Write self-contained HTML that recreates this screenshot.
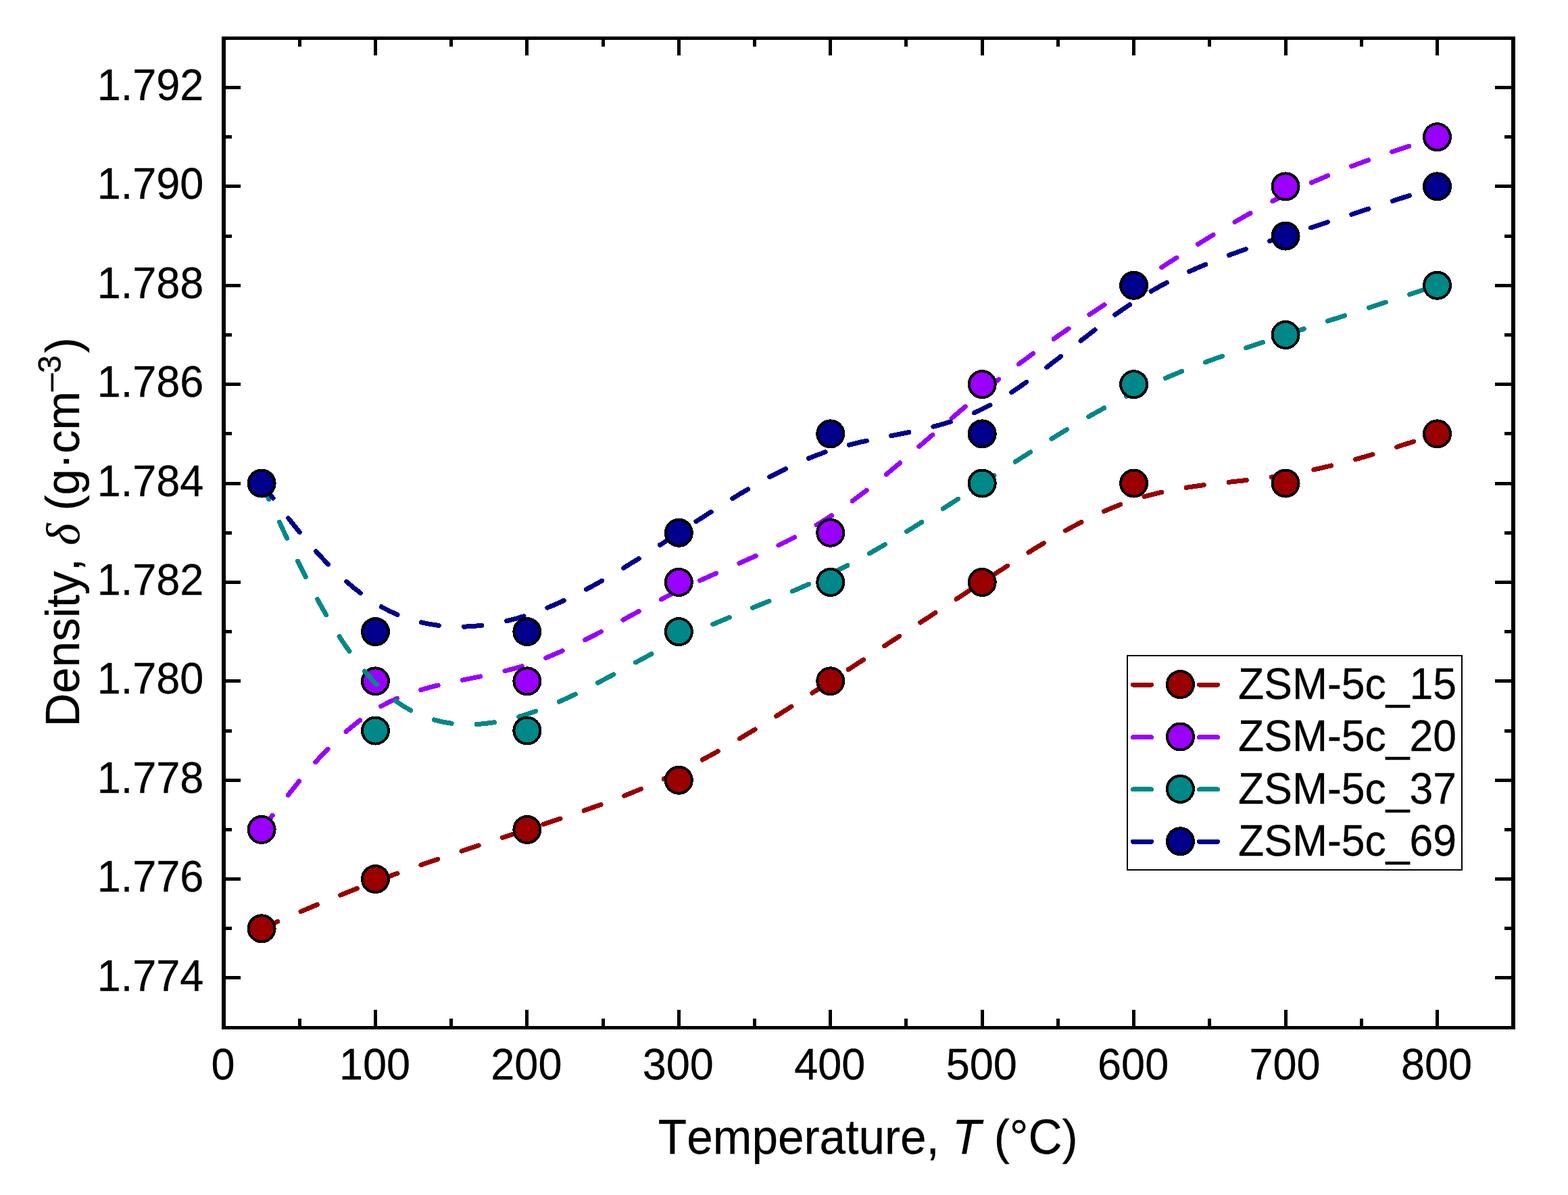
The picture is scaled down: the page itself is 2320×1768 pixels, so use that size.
<!DOCTYPE html><html><head><meta charset="utf-8"><title>Density vs Temperature</title><style>
html,body{margin:0;padding:0;background:#fff;}body{width:2320px;height:1768px;overflow:hidden;}svg{display:block;}
text{font-family:"Liberation Sans",Arial,sans-serif;fill:#000;font-kerning:none;stroke:#000;stroke-width:0.3px;}
</style></head><body>
<svg width="2320" height="1768" viewBox="0 0 2320 1768">
<rect x="0" y="0" width="2320" height="1768" fill="#fff"/>
<g fill="#000" shape-rendering="crispEdges">
<rect x="328" y="54" width="6" height="1469"/>
<rect x="2236" y="54" width="6" height="1469"/>
<rect x="328" y="54" width="1914" height="5"/>
<rect x="328" y="1518" width="1914" height="5"/>
<rect x="440.72" y="1507" width="5" height="11"/>
<rect x="440.72" y="59" width="5" height="10"/>
<rect x="552.94" y="1494" width="5" height="24"/>
<rect x="552.94" y="59" width="5" height="23"/>
<rect x="665.16" y="1507" width="5" height="11"/>
<rect x="665.16" y="59" width="5" height="10"/>
<rect x="777.38" y="1494" width="5" height="24"/>
<rect x="777.38" y="59" width="5" height="23"/>
<rect x="889.59" y="1507" width="5" height="11"/>
<rect x="889.59" y="59" width="5" height="10"/>
<rect x="1001.81" y="1494" width="5" height="24"/>
<rect x="1001.81" y="59" width="5" height="23"/>
<rect x="1114.03" y="1507" width="5" height="11"/>
<rect x="1114.03" y="59" width="5" height="10"/>
<rect x="1226.25" y="1494" width="5" height="24"/>
<rect x="1226.25" y="59" width="5" height="23"/>
<rect x="1338.47" y="1507" width="5" height="11"/>
<rect x="1338.47" y="59" width="5" height="10"/>
<rect x="1450.69" y="1494" width="5" height="24"/>
<rect x="1450.69" y="59" width="5" height="23"/>
<rect x="1562.91" y="1507" width="5" height="11"/>
<rect x="1562.91" y="59" width="5" height="10"/>
<rect x="1675.12" y="1494" width="5" height="24"/>
<rect x="1675.12" y="59" width="5" height="23"/>
<rect x="1787.34" y="1507" width="5" height="11"/>
<rect x="1787.34" y="59" width="5" height="10"/>
<rect x="1899.56" y="1494" width="5" height="24"/>
<rect x="1899.56" y="59" width="5" height="23"/>
<rect x="2011.78" y="1507" width="5" height="11"/>
<rect x="2011.78" y="59" width="5" height="10"/>
<rect x="2124.00" y="1494" width="5" height="24"/>
<rect x="2124.00" y="59" width="5" height="23"/>
<rect x="334" y="1444.49" width="22" height="5"/>
<rect x="2212" y="1444.49" width="24" height="5"/>
<rect x="334" y="1371.30" width="9" height="5"/>
<rect x="2226" y="1371.30" width="10" height="5"/>
<rect x="334" y="1298.10" width="22" height="5"/>
<rect x="2212" y="1298.10" width="24" height="5"/>
<rect x="334" y="1224.91" width="9" height="5"/>
<rect x="2226" y="1224.91" width="10" height="5"/>
<rect x="334" y="1151.72" width="22" height="5"/>
<rect x="2212" y="1151.72" width="24" height="5"/>
<rect x="334" y="1078.52" width="9" height="5"/>
<rect x="2226" y="1078.52" width="10" height="5"/>
<rect x="334" y="1005.33" width="22" height="5"/>
<rect x="2212" y="1005.33" width="24" height="5"/>
<rect x="334" y="932.13" width="9" height="5"/>
<rect x="2226" y="932.13" width="10" height="5"/>
<rect x="334" y="858.94" width="22" height="5"/>
<rect x="2212" y="858.94" width="24" height="5"/>
<rect x="334" y="785.75" width="9" height="5"/>
<rect x="2226" y="785.75" width="10" height="5"/>
<rect x="334" y="712.55" width="22" height="5"/>
<rect x="2212" y="712.55" width="24" height="5"/>
<rect x="334" y="639.36" width="9" height="5"/>
<rect x="2226" y="639.36" width="10" height="5"/>
<rect x="334" y="566.16" width="22" height="5"/>
<rect x="2212" y="566.16" width="24" height="5"/>
<rect x="334" y="492.97" width="9" height="5"/>
<rect x="2226" y="492.97" width="10" height="5"/>
<rect x="334" y="419.78" width="22" height="5"/>
<rect x="2212" y="419.78" width="24" height="5"/>
<rect x="334" y="346.58" width="9" height="5"/>
<rect x="2226" y="346.58" width="10" height="5"/>
<rect x="334" y="273.39" width="22" height="5"/>
<rect x="2212" y="273.39" width="24" height="5"/>
<rect x="334" y="200.19" width="9" height="5"/>
<rect x="2226" y="200.19" width="10" height="5"/>
<rect x="334" y="127.00" width="22" height="5"/>
<rect x="2212" y="127.00" width="24" height="5"/>
</g>
<g font-size="63" text-anchor="middle">
<text transform="translate(330.00,1597) scale(1,1.030)">0</text>
<text transform="translate(554.44,1597) scale(1,1.030)">100</text>
<text transform="translate(778.88,1597) scale(1,1.030)">200</text>
<text transform="translate(1003.31,1597) scale(1,1.030)">300</text>
<text transform="translate(1227.75,1597) scale(1,1.030)">400</text>
<text transform="translate(1452.19,1597) scale(1,1.030)">500</text>
<text transform="translate(1676.62,1597) scale(1,1.030)">600</text>
<text transform="translate(1901.06,1597) scale(1,1.030)">700</text>
<text transform="translate(2125.50,1597) scale(1,1.030)">800</text>
</g>
<g font-size="63" text-anchor="end">
<text transform="translate(301.30,1465.54) scale(1,1.030)">1.774</text>
<text transform="translate(301.30,1319.15) scale(1,1.030)">1.776</text>
<text transform="translate(301.30,1172.77) scale(1,1.030)">1.778</text>
<text transform="translate(301.30,1026.38) scale(1,1.030)">1.780</text>
<text transform="translate(301.30,879.99) scale(1,1.030)">1.782</text>
<text transform="translate(301.30,733.60) scale(1,1.030)">1.784</text>
<text transform="translate(301.30,587.21) scale(1,1.030)">1.786</text>
<text transform="translate(301.30,440.83) scale(1,1.030)">1.788</text>
<text transform="translate(301.30,294.44) scale(1,1.030)">1.790</text>
<text transform="translate(301.30,148.05) scale(1,1.030)">1.792</text>
</g>
<text transform="translate(1284.2,1706.9) scale(1,1.035)" font-size="69.3" text-anchor="middle">Temperature, <tspan font-style="italic">T</tspan> (°C)</text>
<text transform="translate(117,787.40) rotate(-90) scale(1,1.01)" font-size="69.10" text-anchor="middle">Density, <tspan font-family="'Liberation Serif', serif" font-style="italic">δ</tspan> (g·cm<tspan font-size="48" dy="-27">–3</tspan><tspan dy="27" dx="3.4">)</tspan></text>
<path d="M387.11 1373.80C387.11 1373.80 387.11 1373.80 415.16 1361.60C443.22 1349.40 499.33 1325.00 564.79 1300.60C630.25 1276.21 705.06 1251.81 779.88 1227.41C854.69 1203.01 929.50 1178.61 1004.31 1142.02C1079.12 1105.42 1153.94 1056.62 1228.75 1007.83C1303.56 959.03 1378.38 910.24 1453.19 861.44C1528.00 812.64 1602.81 763.85 1677.62 739.45C1752.44 715.05 1827.25 715.05 1902.06 702.85C1976.88 690.65 2051.69 666.26 2089.09 654.06C2126.50 641.86 2126.50 641.86 2126.50 641.86" fill="none" stroke="#990000" stroke-width="7.00" stroke-dasharray="26.5 37.057" stroke-dashoffset="0.23" stroke-linecap="round" stroke-linejoin="round" shape-rendering="crispEdges"/>
<circle cx="387.11" cy="1373.80" r="19.50" fill="#990000" stroke="#000" stroke-width="4.00" shape-rendering="crispEdges"/>
<circle cx="555.44" cy="1300.60" r="19.50" fill="#990000" stroke="#000" stroke-width="4.00" shape-rendering="crispEdges"/>
<circle cx="779.88" cy="1227.41" r="19.50" fill="#990000" stroke="#000" stroke-width="4.00" shape-rendering="crispEdges"/>
<circle cx="1004.31" cy="1154.22" r="19.50" fill="#990000" stroke="#000" stroke-width="4.00" shape-rendering="crispEdges"/>
<circle cx="1228.75" cy="1007.83" r="19.50" fill="#990000" stroke="#000" stroke-width="4.00" shape-rendering="crispEdges"/>
<circle cx="1453.19" cy="861.44" r="19.50" fill="#990000" stroke="#000" stroke-width="4.00" shape-rendering="crispEdges"/>
<circle cx="1677.62" cy="715.05" r="19.50" fill="#990000" stroke="#000" stroke-width="4.00" shape-rendering="crispEdges"/>
<circle cx="1902.06" cy="715.05" r="19.50" fill="#990000" stroke="#000" stroke-width="4.00" shape-rendering="crispEdges"/>
<circle cx="2126.50" cy="641.86" r="19.50" fill="#990000" stroke="#000" stroke-width="4.00" shape-rendering="crispEdges"/>
<path d="M387.11 1227.41C387.11 1227.41 387.11 1227.41 415.16 1190.81C443.22 1154.22 499.33 1081.02 564.79 1044.43C630.25 1007.83 705.06 1007.83 779.88 983.43C854.69 959.03 929.50 910.24 1004.31 873.64C1079.12 837.04 1153.94 812.64 1228.75 763.85C1303.56 715.05 1378.38 641.86 1453.19 580.86C1528.00 519.87 1602.81 471.07 1677.62 422.28C1752.44 373.48 1827.25 324.68 1902.06 288.09C1976.88 251.49 2051.69 227.09 2089.09 214.89C2126.50 202.69 2126.50 202.69 2126.50 202.69" fill="none" stroke="#9900FF" stroke-width="7.00" stroke-dasharray="26.5 37.278" stroke-dashoffset="-0.51" stroke-linecap="round" stroke-linejoin="round" shape-rendering="crispEdges"/>
<circle cx="387.11" cy="1227.41" r="19.50" fill="#9900FF" stroke="#000" stroke-width="4.00" shape-rendering="crispEdges"/>
<circle cx="555.44" cy="1007.83" r="19.50" fill="#9900FF" stroke="#000" stroke-width="4.00" shape-rendering="crispEdges"/>
<circle cx="779.88" cy="1007.83" r="19.50" fill="#9900FF" stroke="#000" stroke-width="4.00" shape-rendering="crispEdges"/>
<circle cx="1004.31" cy="861.44" r="19.50" fill="#9900FF" stroke="#000" stroke-width="4.00" shape-rendering="crispEdges"/>
<circle cx="1228.75" cy="788.25" r="19.50" fill="#9900FF" stroke="#000" stroke-width="4.00" shape-rendering="crispEdges"/>
<circle cx="1453.19" cy="568.66" r="19.50" fill="#9900FF" stroke="#000" stroke-width="4.00" shape-rendering="crispEdges"/>
<circle cx="1677.62" cy="422.28" r="19.50" fill="#9900FF" stroke="#000" stroke-width="4.00" shape-rendering="crispEdges"/>
<circle cx="1902.06" cy="275.89" r="19.50" fill="#9900FF" stroke="#000" stroke-width="4.00" shape-rendering="crispEdges"/>
<circle cx="2126.50" cy="202.69" r="19.50" fill="#9900FF" stroke="#000" stroke-width="4.00" shape-rendering="crispEdges"/>
<path d="M387.11 715.05C387.11 715.05 387.11 715.05 415.16 776.05C443.22 837.04 499.33 959.03 564.79 1020.03C630.25 1081.02 705.06 1081.02 779.88 1056.62C854.69 1032.23 929.50 983.43 1004.31 946.83C1079.12 910.24 1153.94 885.84 1228.75 849.24C1303.56 812.64 1378.38 763.85 1453.19 715.05C1528.00 666.26 1602.81 617.46 1677.62 580.86C1752.44 544.27 1827.25 519.87 1902.06 495.47C1976.88 471.07 2051.69 446.67 2089.09 434.48C2126.50 422.28 2126.50 422.28 2126.50 422.28" fill="none" stroke="#008888" stroke-width="7.00" stroke-dasharray="26.5 37.160" stroke-dashoffset="0.38" stroke-linecap="round" stroke-linejoin="round" shape-rendering="crispEdges"/>
<circle cx="387.11" cy="715.05" r="19.50" fill="#008888" stroke="#000" stroke-width="4.00" shape-rendering="crispEdges"/>
<circle cx="555.44" cy="1081.02" r="19.50" fill="#008888" stroke="#000" stroke-width="4.00" shape-rendering="crispEdges"/>
<circle cx="779.88" cy="1081.02" r="19.50" fill="#008888" stroke="#000" stroke-width="4.00" shape-rendering="crispEdges"/>
<circle cx="1004.31" cy="934.63" r="19.50" fill="#008888" stroke="#000" stroke-width="4.00" shape-rendering="crispEdges"/>
<circle cx="1228.75" cy="861.44" r="19.50" fill="#008888" stroke="#000" stroke-width="4.00" shape-rendering="crispEdges"/>
<circle cx="1453.19" cy="715.05" r="19.50" fill="#008888" stroke="#000" stroke-width="4.00" shape-rendering="crispEdges"/>
<circle cx="1677.62" cy="568.66" r="19.50" fill="#008888" stroke="#000" stroke-width="4.00" shape-rendering="crispEdges"/>
<circle cx="1902.06" cy="495.47" r="19.50" fill="#008888" stroke="#000" stroke-width="4.00" shape-rendering="crispEdges"/>
<circle cx="2126.50" cy="422.28" r="19.50" fill="#008888" stroke="#000" stroke-width="4.00" shape-rendering="crispEdges"/>
<path d="M387.11 715.05C387.11 715.05 387.11 715.05 415.16 751.65C443.22 788.25 499.33 861.44 564.79 898.04C630.25 934.63 705.06 934.63 779.88 910.24C854.69 885.84 929.50 837.04 1004.31 788.25C1079.12 739.45 1153.94 690.65 1228.75 666.26C1303.56 641.86 1378.38 641.86 1453.19 605.26C1528.00 568.66 1602.81 495.47 1677.62 446.67C1752.44 397.88 1827.25 373.48 1902.06 349.08C1976.88 324.68 2051.69 300.29 2089.09 288.09C2126.50 275.89 2126.50 275.89 2126.50 275.89" fill="none" stroke="#00008C" stroke-width="7.00" stroke-dasharray="26.5 37.151" stroke-dashoffset="-1.55" stroke-linecap="round" stroke-linejoin="round" shape-rendering="crispEdges"/>
<circle cx="387.11" cy="715.05" r="19.50" fill="#00008C" stroke="#000" stroke-width="4.00" shape-rendering="crispEdges"/>
<circle cx="555.44" cy="934.63" r="19.50" fill="#00008C" stroke="#000" stroke-width="4.00" shape-rendering="crispEdges"/>
<circle cx="779.88" cy="934.63" r="19.50" fill="#00008C" stroke="#000" stroke-width="4.00" shape-rendering="crispEdges"/>
<circle cx="1004.31" cy="788.25" r="19.50" fill="#00008C" stroke="#000" stroke-width="4.00" shape-rendering="crispEdges"/>
<circle cx="1228.75" cy="641.86" r="19.50" fill="#00008C" stroke="#000" stroke-width="4.00" shape-rendering="crispEdges"/>
<circle cx="1453.19" cy="641.86" r="19.50" fill="#00008C" stroke="#000" stroke-width="4.00" shape-rendering="crispEdges"/>
<circle cx="1677.62" cy="422.28" r="19.50" fill="#00008C" stroke="#000" stroke-width="4.00" shape-rendering="crispEdges"/>
<circle cx="1902.06" cy="349.08" r="19.50" fill="#00008C" stroke="#000" stroke-width="4.00" shape-rendering="crispEdges"/>
<circle cx="2126.50" cy="275.89" r="19.50" fill="#00008C" stroke="#000" stroke-width="4.00" shape-rendering="crispEdges"/>
<rect x="1668" y="970" width="495" height="317" fill="#fff" stroke="#000" stroke-width="2" shape-rendering="crispEdges"/>
<line x1="1676.5" y1="1013.1" x2="1703.5" y2="1013.1" stroke="#990000" stroke-width="7" stroke-linecap="round" shape-rendering="crispEdges"/>
<line x1="1774.5" y1="1013.1" x2="1801.5" y2="1013.1" stroke="#990000" stroke-width="7" stroke-linecap="round" shape-rendering="crispEdges"/>
<circle cx="1746.4" cy="1012.6" r="19.50" fill="#990000" stroke="#000" stroke-width="4.00" shape-rendering="crispEdges"/>
<text transform="translate(1832.1,1033.80) scale(1,1.044)" font-size="62.5">ZSM-5c_15</text>
<line x1="1676.5" y1="1090.5" x2="1703.5" y2="1090.5" stroke="#9900FF" stroke-width="7" stroke-linecap="round" shape-rendering="crispEdges"/>
<line x1="1774.5" y1="1090.5" x2="1801.5" y2="1090.5" stroke="#9900FF" stroke-width="7" stroke-linecap="round" shape-rendering="crispEdges"/>
<circle cx="1746.4" cy="1090.0" r="19.50" fill="#9900FF" stroke="#000" stroke-width="4.00" shape-rendering="crispEdges"/>
<text transform="translate(1832.1,1111.20) scale(1,1.044)" font-size="62.5">ZSM-5c_20</text>
<line x1="1676.5" y1="1167.9" x2="1703.5" y2="1167.9" stroke="#008888" stroke-width="7" stroke-linecap="round" shape-rendering="crispEdges"/>
<line x1="1774.5" y1="1167.9" x2="1801.5" y2="1167.9" stroke="#008888" stroke-width="7" stroke-linecap="round" shape-rendering="crispEdges"/>
<circle cx="1746.4" cy="1167.4" r="19.50" fill="#008888" stroke="#000" stroke-width="4.00" shape-rendering="crispEdges"/>
<text transform="translate(1832.1,1188.60) scale(1,1.044)" font-size="62.5">ZSM-5c_37</text>
<line x1="1676.5" y1="1245.3" x2="1703.5" y2="1245.3" stroke="#00008C" stroke-width="7" stroke-linecap="round" shape-rendering="crispEdges"/>
<line x1="1774.5" y1="1245.3" x2="1801.5" y2="1245.3" stroke="#00008C" stroke-width="7" stroke-linecap="round" shape-rendering="crispEdges"/>
<circle cx="1746.4" cy="1244.8" r="19.50" fill="#00008C" stroke="#000" stroke-width="4.00" shape-rendering="crispEdges"/>
<text transform="translate(1832.1,1266.00) scale(1,1.044)" font-size="62.5">ZSM-5c_69</text>
</svg></body></html>
